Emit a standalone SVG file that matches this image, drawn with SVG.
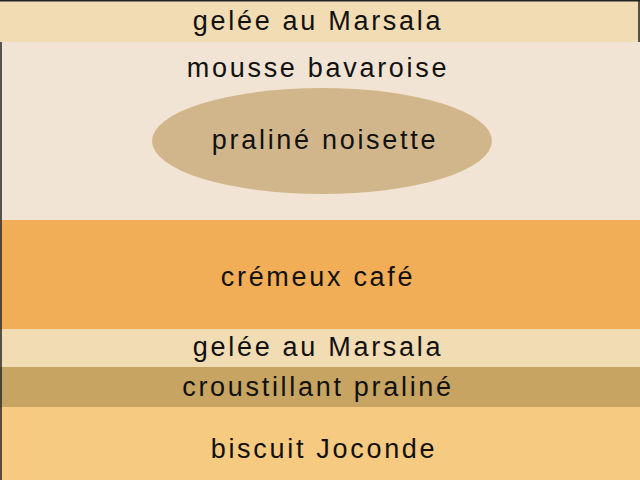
<svg xmlns="http://www.w3.org/2000/svg" width="640" height="480" viewBox="0 0 640 480">
<style>
text{font-family:"Liberation Sans",Arial,sans-serif;font-size:27px;letter-spacing:2.7px;fill:#111;text-anchor:middle}
</style>
<g id="gelee-top"><rect x="0" y="0" width="640" height="42" fill="#f2dcb3"/><text x="318" y="30">gelée au Marsala</text></g>
<g id="mousse"><rect x="0" y="42" width="640" height="178" fill="#f2e4d4"/><text x="318" y="77">mousse bavaroise</text></g>
<g id="praline-noisette"><ellipse cx="322" cy="141" rx="170" ry="53" fill="#d2b68b"/><text x="325" y="149">praliné noisette</text></g>
<g id="cremeux"><rect x="0" y="220" width="640" height="109" fill="#f2ad57"/><text x="318" y="286">crémeux café</text></g>
<g id="gelee-bottom"><rect x="0" y="329" width="640" height="38" fill="#f2dcb3"/><text x="318" y="356">gelée au Marsala</text></g>
<g id="croustillant"><rect x="0" y="367" width="640" height="40" fill="#c7a461"/><text x="318" y="396">croustillant praliné</text></g>
<g id="biscuit"><rect x="0" y="407" width="640" height="73" fill="#f6ca80"/><text x="324" y="458">biscuit Joconde</text></g>
<g id="edges" stroke="#222" stroke-width="1.5" fill="none"><path d="M0,0.75 H640"/><path d="M639,0 V42"/><path d="M1,42 V480"/></g>
</svg>
